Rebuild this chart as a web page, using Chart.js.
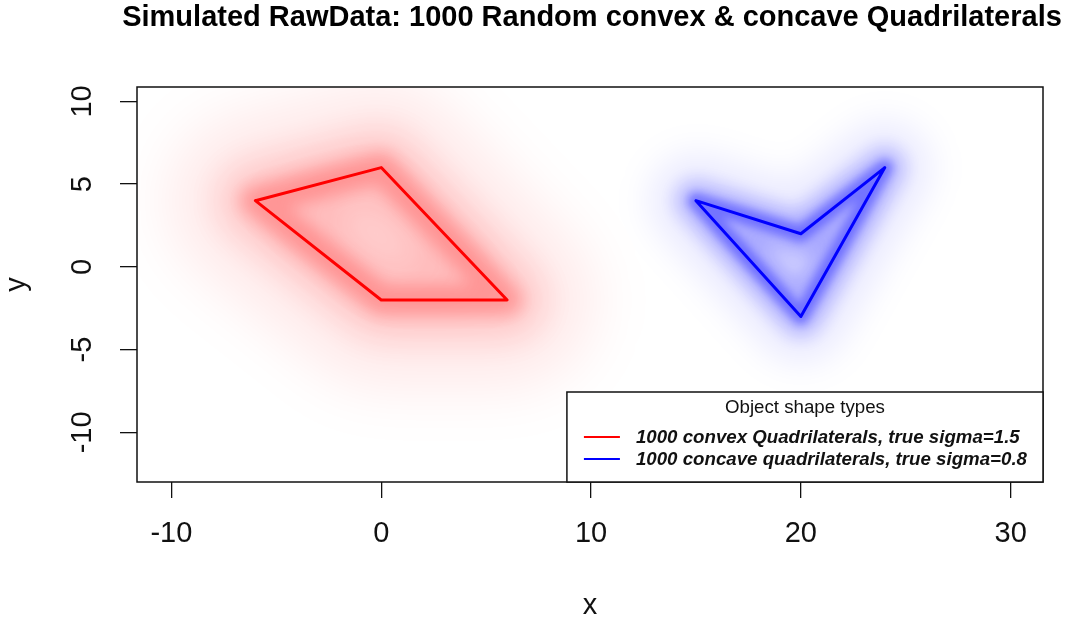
<!DOCTYPE html>
<html>
<head>
<meta charset="utf-8">
<script src="https://cdn.jsdelivr.net/npm/chart.js@4.4.1/dist/chart.umd.min.js"></script>
<style>
  body { margin: 0; background: #fff; }
  #wrap { width: 1075px; height: 623px; }
</style>
</head>
<body>
<div id="wrap"><canvas id="quadChart" width="1075" height="623"></canvas></div>
<script>
// mean shapes of the two simulated groups (closed outlines)
const convexX = [-6, 0, 6, 0, -6];
const convexY = [4, 6, -2, -2, 4];
const concaveX = [15, 20, 24, 20, 15];
const concaveY = [4, 2, 6, -3, 4];

const xTicks = [-10, 0, 10, 20, 30];
const yTicks = [-10, -5, 0, 5, 10];

const seriesLabels = [
  '1000 convex Quadrilaterals, true sigma=1.5',
  '1000 concave quadrilaterals, true sigma=0.8'
];
const legendTitle = 'Object shape types';
const chartTitle = 'Simulated RawData: 1000 Random convex & concave Quadrilaterals';

const FONT = "'Liberation Sans', Arial, sans-serif";

const toPoints = (xs, ys) => xs.map((x, i) => ({ x: x, y: ys[i] }));

// one outline dataset; blur / hazeFill are read by the haze plugin
const outline = (xs, ys, color, width, extra) => Object.assign({
  data: toPoints(xs, ys),
  showLine: true,
  borderColor: color,
  borderWidth: width,
  borderJoinStyle: 'round',
  borderCapStyle: 'round',
  pointRadius: 0,
  pointHoverRadius: 0,
  fill: false,
  tension: 0
}, extra || {});

// soft cloud around each mean shape, drawn blurred
const hazePlugin = {
  id: 'haze',
  beforeDatasetDraw(chart, args) {
    const ds = chart.data.datasets[args.index];
    if (!ds.blur) return;
    const ctx = chart.ctx;
    ctx.save();
    ctx.filter = 'blur(' + ds.blur + 'px)';
    if (ds.hazeFill) {
      const pts = args.meta.data;
      ctx.beginPath();
      pts.forEach((p, i) => i ? ctx.lineTo(p.x, p.y) : ctx.moveTo(p.x, p.y));
      ctx.closePath();
      ctx.fillStyle = ds.hazeFill;
      ctx.fill();
    }
  },
  afterDatasetDraw(chart, args) {
    if (chart.data.datasets[args.index].blur) chart.ctx.restore();
  }
};

// R style main title, box round the plot, legend box bottom right
const frameLegendPlugin = {
  id: 'frameLegend',
  afterDraw(chart) {
    const ctx = chart.ctx;
    const a = chart.chartArea;
    ctx.save();
    ctx.filter = 'none';

    // title sits a bit right of centre, like R's plot title over the plot region
    ctx.fillStyle = '#000';
    ctx.font = 'bold 29px ' + FONT;
    ctx.textAlign = 'center';
    ctx.textBaseline = 'middle';
    ctx.fillText(chartTitle, 592, 18);

    ctx.strokeStyle = '#111';
    ctx.lineWidth = 1.5;
    ctx.strokeRect(a.left, a.top, a.right - a.left, a.bottom - a.top);

    const items = chart.data.datasets.filter(d => d.key);
    ctx.font = 'italic bold 18.7px ' + FONT;
    let textW = 0;
    items.forEach(d => { textW = Math.max(textW, ctx.measureText(d.label).width); });
    const boxW = 17 + 36 + 16 + textW + 16;
    const boxH = 90;
    const bx = a.right - boxW;
    const by = a.bottom - boxH;
    ctx.fillStyle = '#fff';
    ctx.fillRect(bx, by, boxW, boxH);
    ctx.strokeRect(bx, by, boxW, boxH);

    ctx.fillStyle = '#111';
    ctx.textAlign = 'center';
    ctx.font = '18.7px ' + FONT;
    ctx.fillText(legendTitle, bx + boxW / 2, by + 16);

    ctx.textAlign = 'left';
    ctx.font = 'italic bold 18.7px ' + FONT;
    items.forEach((d, i) => {
      const y = by + 45 + i * 22;
      ctx.strokeStyle = d.borderColor;
      ctx.lineWidth = 2;
      ctx.beginPath();
      ctx.moveTo(bx + 17, y);
      ctx.lineTo(bx + 53, y);
      ctx.stroke();
      ctx.fillStyle = '#111';
      ctx.fillText(d.label, bx + 69, y + 1);
    });
    ctx.restore();
  }
};

const datasets = [
  outline(convexX, convexY, '#ff0000', 3, { label: seriesLabels[0], key: true, order: 0 }),
  outline(concaveX, concaveY, '#0000ff', 3, { label: seriesLabels[1], key: true, order: 0 }),

  outline(convexX, convexY, 'rgba(255,0,0,0.22)', 30, { blur: 8, order: 1 }),
  outline(convexX, convexY, 'rgba(255,0,0,0.16)', 70, { blur: 18, order: 2 }),
  outline(convexX, convexY, 'rgba(255,0,0,0.09)', 170, { blur: 30, hazeFill: 'rgba(255,0,0,0.07)', order: 3 }),

  outline(concaveX, concaveY, 'rgba(0,0,255,0.35)', 16, { blur: 4, order: 1 }),
  outline(concaveX, concaveY, 'rgba(0,0,255,0.22)', 40, { blur: 9, order: 2 }),
  outline(concaveX, concaveY, 'rgba(0,0,255,0.09)', 90, { blur: 18, hazeFill: 'rgba(0,0,255,0.10)', order: 3 })
];

new Chart(document.getElementById('quadChart'), {
  type: 'scatter',
  data: { datasets: datasets },
  plugins: [hazePlugin, frameLegendPlugin],
  options: {
    responsive: false,
    animation: false,
    layout: { padding: { left: 0, right: 32, top: 87, bottom: 0 } },
    plugins: {
      legend: { display: false },
      tooltip: { enabled: false },
      title: { display: false }
    },
    scales: {
      x: {
        type: 'linear',
        min: -11.64,
        max: 31.54,
        afterBuildTicks: s => { s.ticks = xTicks.map(v => ({ value: v })); },
        afterFit: s => { s.height = 141; },
        border: { display: false },
        grid: { drawOnChartArea: false, drawTicks: true, tickLength: 16, color: '#111', lineWidth: 1.3 },
        ticks: { color: '#111', font: { family: FONT, size: 29 }, padding: 19, maxRotation: 0 },
        title: { display: true, text: 'x', color: '#111', font: { family: FONT, size: 29 }, padding: { top: 0, bottom: 0 } }
      },
      y: {
        type: 'linear',
        min: -13.0,
        max: 10.87,
        afterBuildTicks: s => { s.ticks = yTicks.map(v => ({ value: v })); },
        afterFit: s => { s.width = 137; },
        border: { display: false },
        grid: { drawOnChartArea: false, drawTicks: true, tickLength: 17, color: '#111', lineWidth: 1.3 },
        ticks: { color: '#111', font: { family: FONT, size: 29 }, padding: 16, minRotation: 90, maxRotation: 90, crossAlign: 'center' },
        title: { display: true, text: 'y', color: '#111', font: { family: FONT, size: 29 }, padding: { top: 0, bottom: 0 } }
      }
    }
  }
});
</script>
</body>
</html>
